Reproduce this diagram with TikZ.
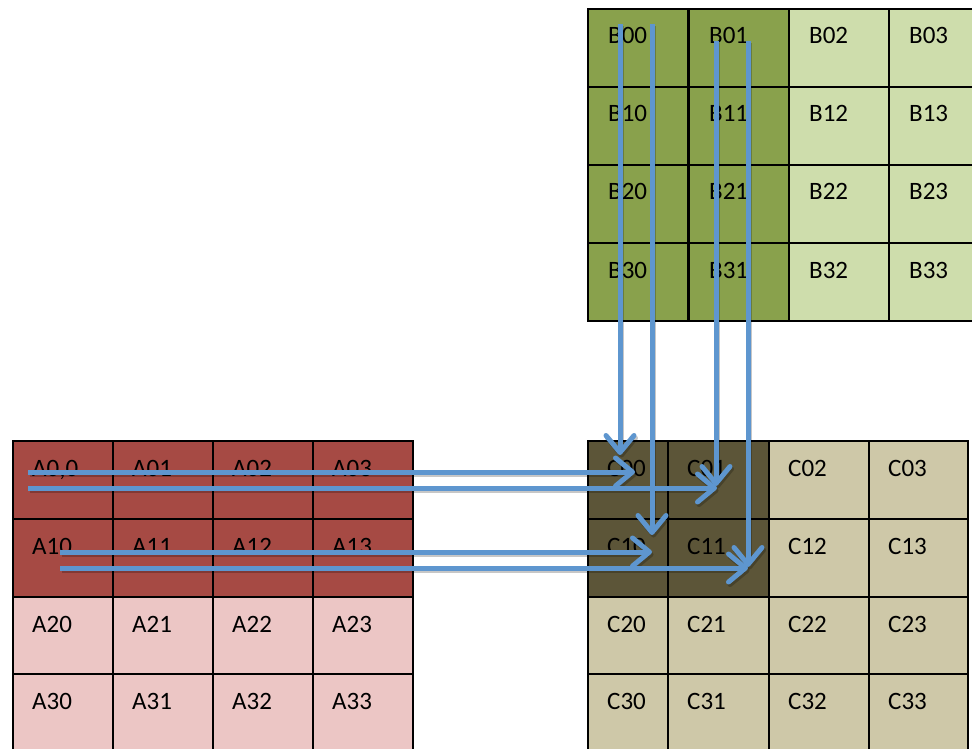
\documentclass[tikz,border=0pt]{standalone}
\usepackage{fontspec}
\setmainfont{Carlito}
\usetikzlibrary{arrows.meta}
\definecolor{adark}{RGB}{166,74,68}
\definecolor{alight}{RGB}{236,198,197}
\definecolor{bdark}{RGB}{137,161,76}
\definecolor{blight}{RGB}{206,221,172}
\definecolor{cdark}{RGB}{92,85,56}
\definecolor{clight}{RGB}{206,200,168}
\definecolor{lineblue}{RGB}{94,150,207}
\begin{document}
\begin{tikzpicture}[x=1pt,y=-1pt,
  cell/.style={draw=black, line width=1.8pt, rectangle, anchor=north west, inner sep=0pt, minimum height=78pt},
  lbl/.style={anchor=base west, inner sep=0pt, font=\fontsize{25pt}{29pt}\selectfont},
  arr/.style={line width=5pt, draw=lineblue, -{Straight Barb[length=17pt,width=28pt,round]}},
  shd/.style={arr, draw=black, opacity=0.22, transform canvas={shift={(1.5pt,-2.5pt)}}}]
\useasboundingbox (0,0) rectangle (972,749);
\fill[white] (0,0) rectangle (972,749);
\clip (0,0) rectangle (972,749);

% Matrix A
\foreach \r/\y in {0/440,1/518,2/596,3/673} {
  \foreach \c/\x in {0/12,1/112,2/212,3/312} {
    \ifnum\r<2 \def\fc{adark}\else\def\fc{alight}\fi
    \def\txt{A\r\c}\ifnum\r\c=0 \def\txt{A0,0}\fi
    \node[cell, fill=\fc, minimum width=100pt] (A\r\c) at (\x,\y) {};
    \node[lbl] at ([xshift=20pt,yshift=-36pt]A\r\c.north west) {\txt};
  }}

% Matrix B
\foreach \r/\y in {0/8,1/86,2/164,3/242} {
  \foreach \c/\x in {0/587,1/688,2/788,3/888} {
    \ifnum\c<2 \def\fc{bdark}\else\def\fc{blight}\fi
    \node[cell, fill=\fc, minimum width=100pt] (B\r\c) at (\x,\y) {};
    \node[lbl] at ([xshift=21pt,yshift=-36pt]B\r\c.north west) {B\r\c};
  }}

% Matrix C
\foreach \r/\y in {0/440,1/518,2/596,3/673} {
  \foreach \c/\x/\w in {0/587/80,1/667/101,2/768/100,3/868/99} {
    \ifnum\r<2 \ifnum\c<2 \def\fc{cdark}\else\def\fc{clight}\fi\else\def\fc{clight}\fi
    \node[cell, fill=\fc, minimum width=\w pt] (C\r\c) at (\x,\y) {};
    \node[lbl] at ([xshift=20pt,yshift=-36pt]C\r\c.north west) {C\r\c};
  }}

% arrow end points
\coordinate (h1s) at (28,472);  \coordinate (h1e) at (635,472);
\coordinate (h2s) at (28,488);  \coordinate (h2e) at (717,488);
\coordinate (h3s) at (60,552);  \coordinate (h3e) at (652,552);
\coordinate (h4s) at (60,568);  \coordinate (h4e) at (748,568);
\coordinate (v1s) at (620,24);  \coordinate (v1e) at (620,455);
\coordinate (v2s) at (652,24);  \coordinate (v2e) at (652,535);
\coordinate (v3s) at (716,41);  \coordinate (v3e) at (716,486);
\coordinate (v4s) at (748,41);  \coordinate (v4e) at (748,567);

% shadows
\foreach \p in {h1,h2,h3,h4,v1,v2,v3,v4} {
  \draw[shd] (\p s) -- (\p e);
}
% arrows
\foreach \p in {h1,h2,h3,h4,v1,v2,v3,v4} {
  \draw[arr] (\p s) -- (\p e);
}
\end{tikzpicture}
\end{document}
